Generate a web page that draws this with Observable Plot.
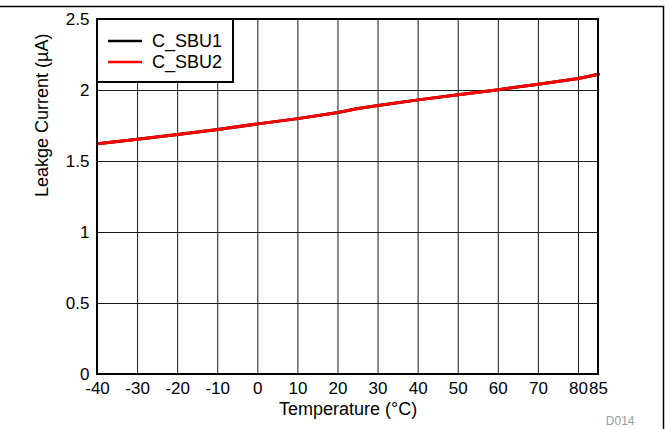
<!DOCTYPE html>
<html>
<head>
<meta charset="utf-8">
<script src="https://cdn.jsdelivr.net/npm/d3@7"></script>
<script src="https://cdn.jsdelivr.net/npm/@observablehq/plot@0.6"></script>
<style>
  html, body { margin: 0; padding: 0; background: #fff; }
  #chart { width: 669px; height: 429px; }
</style>
</head>
<body>
<div id="chart"></div>
<script>
const temperatures = [-40, -30, -20, -10, 0, 10, 20, 25, 30, 40, 50, 60, 70, 80, 85];
const sbu1 = [1.625, 1.656, 1.690, 1.726, 1.765, 1.802, 1.845, 1.873, 1.895, 1.934, 1.970, 2.006, 2.044, 2.084, 2.114];
const sbu2 = [1.625, 1.656, 1.690, 1.726, 1.765, 1.802, 1.845, 1.873, 1.895, 1.934, 1.970, 2.006, 2.044, 2.084, 2.114];
const xTicks = [-40, -30, -20, -10, 0, 10, 20, 30, 40, 50, 60, 70, 80, 85];
const yTicks = [0, 0.5, 1, 1.5, 2, 2.5];
const seriesNames = ["C_SBU1", "C_SBU2"];
const seriesColors = ["#000000", "#ff0000"];

const data = [];
temperatures.forEach((t, i) => {
  data.push({series: seriesNames[0], t, v: sbu1[i]});
  data.push({series: seriesNames[1], t, v: sbu2[i]});
});

const font = "'Liberation Sans', Arial, sans-serif";

const chart = Plot.plot({
  width: 669,
  height: 429,
  marginLeft: 97,
  marginRight: 71,
  marginTop: 19,
  marginBottom: 55,
  style: {fontFamily: font, fontSize: "17px", color: "#000", background: "#fff"},
  x: {domain: [-40, 85], label: null},
  y: {domain: [0, 2.5], label: null},
  marks: [
    Plot.gridX(xTicks, {stroke: "#1a1a1a", strokeOpacity: 1, strokeWidth: 1}),
    Plot.gridY(yTicks, {stroke: "#1a1a1a", strokeOpacity: 1, strokeWidth: 1}),
    Plot.line(data.filter(d => d.series === seriesNames[0]), {x: "t", y: "v", stroke: seriesColors[0], strokeWidth: 3}),
    Plot.line(data.filter(d => d.series === seriesNames[1]), {x: "t", y: "v", stroke: seriesColors[1], strokeWidth: 3}),
    Plot.axisX({ticks: xTicks, tickSize: 0, tickPadding: 7, label: null, fontSize: 17, tickFormat: d => String(d)}),
    Plot.axisY({ticks: yTicks, tickSize: 0, tickPadding: 8, label: null, fontSize: 17, tickFormat: d => String(d)}),
    Plot.text(["Temperature (°C)"], {frameAnchor: "bottom", dy: 40, fontSize: 18, fill: "#000"}),
    Plot.text(["Leakge Current (µA)"], {frameAnchor: "left", dx: -55, rotate: -90, fontSize: 18, fill: "#000"}),
    Plot.text(["D014"], {frameAnchor: "bottom-right", dx: 36, dy: 50, fontSize: 12, fill: "#999"})
  ]
});

document.getElementById("chart").appendChild(chart);

const svg = d3.select(chart);
// legend
const lg = svg.append("g");
lg.append("rect").attr("x", 97).attr("y", 19).attr("width", 136).attr("height", 63)
  .attr("fill", "#fff").attr("stroke", "#000").attr("stroke-width", 2);
seriesNames.forEach((name, i) => {
  const y = 41 + i * 21;
  lg.append("line").attr("x1", 108).attr("x2", 142).attr("y1", y).attr("y2", y)
    .attr("stroke", seriesColors[i]).attr("stroke-width", 2.5);
  lg.append("text").attr("x", 152).attr("y", y).attr("dy", "0.36em")
    .attr("text-anchor", "start")
    .attr("font-family", font).attr("font-size", 18).attr("fill", "#000").text(name);
});
// plot frame on top
svg.append("rect").attr("x", 97).attr("y", 19).attr("width", 501).attr("height", 355)
  .attr("fill", "none").attr("stroke", "#000").attr("stroke-width", 2);
// outer border (top and right)
svg.append("path").attr("d", "M0,6.5H663.5V429").attr("fill", "none").attr("stroke", "#000").attr("stroke-width", 1.5);
</script>
</body>
</html>
